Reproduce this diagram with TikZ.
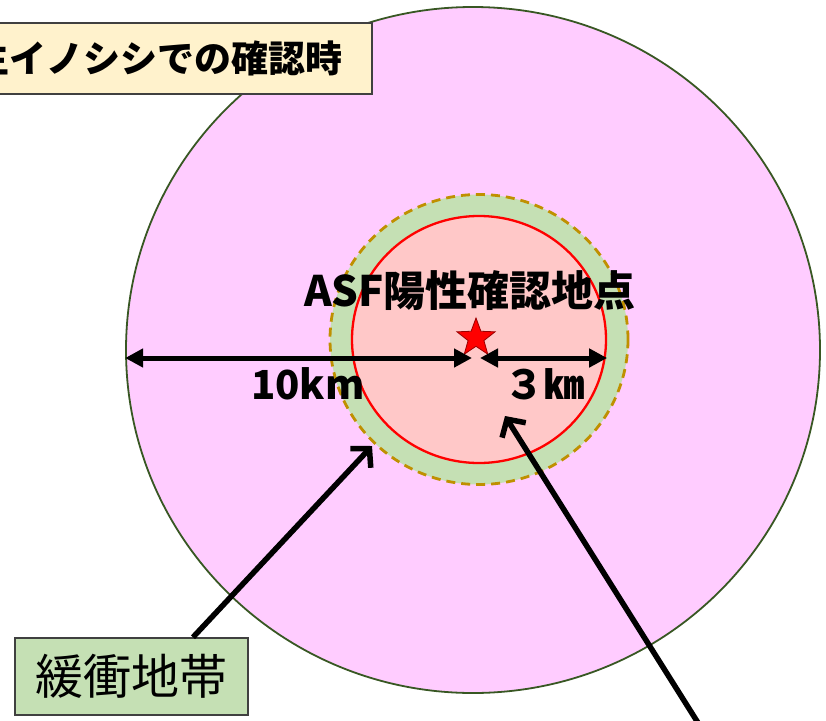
\documentclass[tikz,border=0pt]{standalone}
\usepackage{fontspec}
\setmainfont{Noto Sans CJK JP}
\usepackage{tikz}
\usetikzlibrary{positioning,arrows.meta,shapes.geometric}
\definecolor{zonefill}{HTML}{FFCCFF}
\definecolor{zoneedge}{HTML}{385723}
\definecolor{buffill}{HTML}{C5E0B4}
\definecolor{bufedge}{HTML}{BF9000}
\definecolor{corefill}{HTML}{FFC8C8}
\definecolor{titlefill}{HTML}{FFF2CC}
\definecolor{boxedge}{HTML}{404040}

\begin{document}
\begin{tikzpicture}[x=1pt, y=-1pt,
        zonenode/.style={ellipse, draw=zoneedge, fill=zonefill, line
        width=1.8pt, inner sep=0pt},
        bufnode/.style={ellipse, draw=bufedge, fill=buffill, line
        width=2.8pt, dash pattern=on 9pt off 6pt, inner sep=0pt},
        corenode/.style={ellipse, draw=red, fill=corefill, line
        width=2.3pt, inner sep=0pt},
        bigtext/.style={font=\fontsize{40}{48}\selectfont\bfseries},
        dimarrow/.style={{Triangle[length=18pt, width=18pt]}-{Triangle[length=18pt,
        width=18pt]}, line width=5pt},
        pointer/.style={-{Straight Barb[length=13pt, width=28pt]}, line
        width=5.5pt},
      ]
      \useasboundingbox (0,0) rectangle (826,720);
      \clip (0,0) rectangle (826,720);

      % zones
      \node[zonenode, minimum width=694pt, minimum height=686pt] (zone)
      at (473,350) {};
      \node[bufnode, minimum width=298pt, minimum height=290pt] (buffer)
      at (479,339.5) {};
      \node[corenode, minimum width=254pt, minimum height=247pt] (core)
      at (479,339.5) {};

      % site
      \node[star, star points=5, star point ratio=2.4, minimum size=40pt,
      inner sep=0pt, fill=red, draw=red!60!black, line width=0.8pt]
      (site) at (476,338) {};
      \node[bigtext, font=\fontsize{42}{50}\selectfont\bfseries]
      (sitelabel) at (470,291) {ASF陽性確認地点};

      % distances
      \coordinate (mid) at (476,358);
      \draw[dimarrow] ([xshift=-4pt]mid) -- (mid -| zone.west);
      \draw[dimarrow] ([xshift=4pt]mid) -- (mid -| core.east);
      \node[bigtext] (tenkm) at (308,384) {10km};
      \node[bigtext] (threekm) at (544,384) {３㎞};

      % title
      \node[bigtext, font=\fontsize{37}{44}\selectfont\bfseries,
      anchor=north east, draw=boxedge, fill=titlefill, line width=1.8pt,
      minimum height=71pt, inner xsep=30pt] (title)
      at (373,22) {野生イノシシでの確認時};

      % buffer label
      \node[draw=boxedge, fill=buffill, line width=1.5pt, minimum
      width=233pt, minimum height=77pt, font=\fontsize{48}{56}\selectfont]
      (buflabel) at (131.5,676.5) {緩衝地帯};

      % pointers
      \coordinate (bufpt) at (372,446);
      \coordinate (corept) at (505,416);
      \coordinate (offpage) at (700,726);
      \draw[pointer] ([xshift=61.5pt]buflabel.north) -- (bufpt);
      \draw[pointer] (offpage) -- (corept);
    \end{tikzpicture}
\end{document}
